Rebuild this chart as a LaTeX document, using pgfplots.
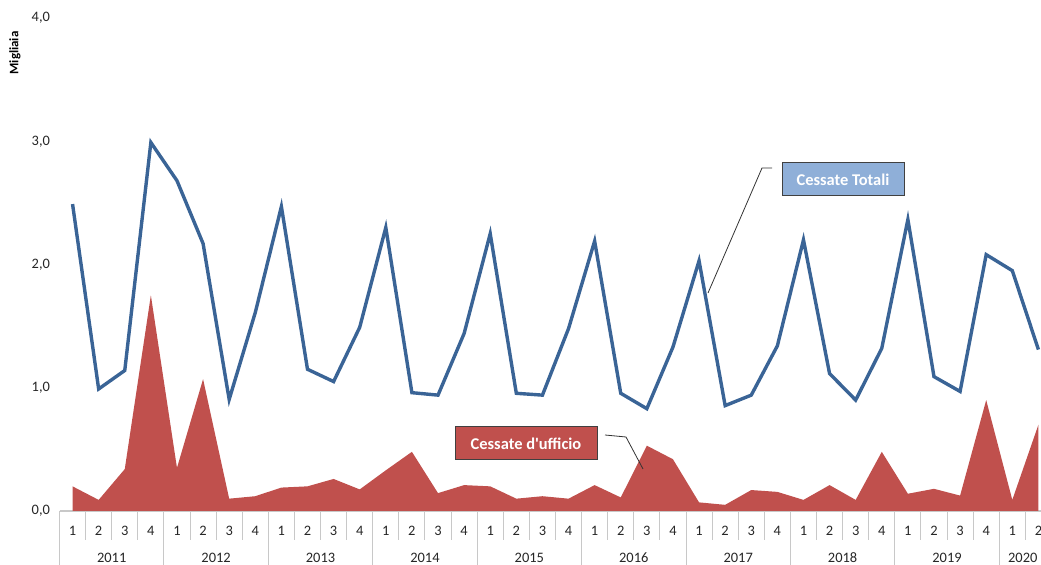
\documentclass[border=0pt]{standalone}
\usepackage{fontspec}
\setmainfont{Carlito}
\usepackage{pgfplots}
\usepackage{pgfplotstable}
\pgfplotsset{compat=1.18}
\definecolor{blueline}{HTML}{3A6496}
\definecolor{redarea}{HTML}{C0504D}
\definecolor{lightbox}{HTML}{8FAFD8}
\definecolor{sepgray}{HTML}{C8C8C8}
\tikzset{yearlab/.style={font=\fontsize{14.5}{16}\selectfont, text=black!85, inner sep=0pt, yshift=-47bp}}

\pgfplotstableread{
x tot uff
0 2.49 0.20
1 0.99 0.09
2 1.14 0.34
3 2.99 1.75
4 2.68 0.35
5 2.17 1.07
6 0.905 0.10
7 1.61 0.12
8 2.47 0.19
9 1.15 0.20
10 1.05 0.26
11 1.49 0.175
12 2.30 0.33
13 0.96 0.48
14 0.94 0.145
15 1.44 0.21
16 2.25 0.20
17 0.955 0.10
18 0.94 0.12
19 1.48 0.10
20 2.19 0.21
21 0.955 0.11
22 0.83 0.53
23 1.33 0.42
24 2.03 0.07
25 0.855 0.05
26 0.94 0.17
27 1.34 0.155
28 2.20 0.09
29 1.115 0.21
30 0.90 0.09
31 1.32 0.48
32 2.365 0.14
33 1.09 0.18
34 0.97 0.125
35 2.08 0.90
36 1.95 0.09
37 1.31 0.70
}\datatable

\begin{document}
\begin{tikzpicture}[x=1bp,y=1bp]
\path[use as bounding box] (0,0) rectangle (1041,565);
\begin{axis}[
  at={(59.5bp,54bp)}, anchor=south west, scale only axis,
  width=981.5bp, height=493bp,
  xmin=-0.5, xmax=37.1, ymin=0, ymax=4,
  clip=false,
  axis x line*=bottom, axis y line*=left,
  y axis line style={draw=none},
  x axis line style={draw=sepgray, line width=1.2bp},
  /pgf/number format/assume math mode=true,
  ytick={0,1,2,3,4},
  ytick style={draw=none},
  yticklabel style={font=\fontsize{14.5}{16}\selectfont, text=black!85,
    /pgf/number format/fixed, /pgf/number format/fixed zerofill,
    /pgf/number format/precision=1, /pgf/number format/use comma,
    xshift=-6bp},
  xtick={0,...,37},
  xticklabels={1,2,3,4,1,2,3,4,1,2,3,4,1,2,3,4,1,2,3,4,1,2,3,4,1,2,3,4,1,2,3,4,1,2,3,4,1,2},
  xtick style={draw=none},
  xticklabel style={font=\fontsize{14.5}{16}\selectfont, text=black!85, anchor=center, yshift=-20bp},
]
\addplot[fill=redarea, draw=none] table[x=x, y=uff] {\datatable} \closedcycle;
\addplot[blueline, line width=3.4bp, line join=miter, mark=none] table[x=x, y=tot] {\datatable};

\pgfplotsinvokeforeach{0.5,1.5,2.5,4.5,5.5,6.5,8.5,9.5,10.5,12.5,13.5,14.5,16.5,17.5,18.5,20.5,21.5,22.5,24.5,25.5,26.5,28.5,29.5,30.5,32.5,33.5,34.5,36.5}{
  \draw[sepgray, line width=1bp] (axis cs:#1,0) -- ([yshift=-29bp]axis cs:#1,0);
}
\pgfplotsinvokeforeach{-0.5,3.5,7.5,11.5,15.5,19.5,23.5,27.5,31.5,35.5}{
  \draw[sepgray, line width=1bp] (axis cs:#1,0) -- ([yshift=-60bp]axis cs:#1,0);
}
\node[yearlab] at (axis cs:1.5,0) {2011};
\node[yearlab] at (axis cs:5.5,0) {2012};
\node[yearlab] at (axis cs:9.5,0) {2013};
\node[yearlab] at (axis cs:13.5,0) {2014};
\node[yearlab] at (axis cs:17.5,0) {2015};
\node[yearlab] at (axis cs:21.5,0) {2016};
\node[yearlab] at (axis cs:25.5,0) {2017};
\node[yearlab] at (axis cs:29.5,0) {2018};
\node[yearlab] at (axis cs:33.5,0) {2019};
\node[yearlab] at (axis cs:36.4,0) {2020};
\end{axis}

\node[rotate=90, font=\bfseries\fontsize{13}{14}\selectfont] at (15,512) {Migliaia};

% annotations
\draw[black!80, line width=0.8bp] (708,272) -- (762,397) -- (772,397);
\node[draw=black!75, line width=1bp, fill=lightbox, text=white, font=\bfseries\fontsize{16.5}{18}\selectfont,
  minimum width=122bp, minimum height=33bp, inner sep=0pt] at (843,385.5) {Cessate Totali};
\draw[black!80, line width=0.8bp] (605,130) -- (626,128) -- (643,96);
\node[draw=black!75, line width=1bp, fill=redarea, text=white, font=\bfseries\fontsize{16.5}{18}\selectfont,
  minimum width=142bp, minimum height=33bp, inner sep=0pt] at (526,121.5) {Cessate d\textquotesingle ufficio};
\end{tikzpicture}
\end{document}
